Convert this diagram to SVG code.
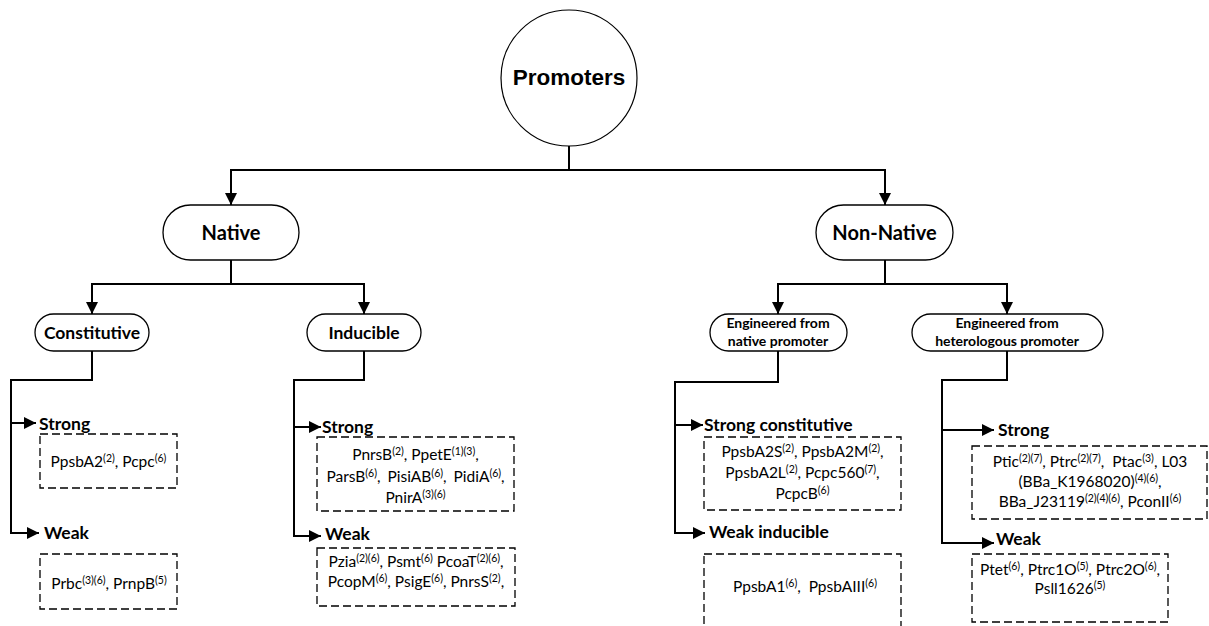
<svg xmlns="http://www.w3.org/2000/svg" width="1209" height="626" viewBox="0 0 1209 626">
<style>
.pill{fill:#fff;stroke:#000;stroke-width:1.3}
.box{fill:none;stroke:#000;stroke-width:1.3;stroke-dasharray:8 4}
.c{fill:none;stroke:#000;stroke-width:2}
.t{font-family:Lato,"Liberation Sans",sans-serif;fill:#000}
.lab{font-size:20px;font-weight:bold}
.sub{font-size:17.5px;font-weight:bold}
.small{font-size:14px;font-weight:bold}
.body{font-size:15.5px}
.sup{font-size:10.5px;baseline-shift:5.5px}
.mid{text-anchor:middle}
</style>
<defs>
<marker id="ah" markerUnits="userSpaceOnUse" markerWidth="12" markerHeight="12" refX="12" refY="6" orient="auto">
<path d="M0,0 L12,6 L0,12 z" fill="#000"/>
</marker>
</defs>
<g id="connectors">
<line class="c" x1="569" y1="146" x2="569" y2="170"/>
<line class="c" x1="230" y1="170" x2="886" y2="170"/>
<line class="c" x1="231" y1="170" x2="231" y2="205" marker-end="url(#ah)"/>
<line class="c" x1="885" y1="170" x2="885" y2="205" marker-end="url(#ah)"/>
<line class="c" x1="231" y1="260" x2="231" y2="284"/>
<line class="c" x1="91" y1="284" x2="365" y2="284"/>
<line class="c" x1="92" y1="284" x2="92" y2="314" marker-end="url(#ah)"/>
<line class="c" x1="364" y1="284" x2="364" y2="314" marker-end="url(#ah)"/>
<line class="c" x1="885" y1="260" x2="885" y2="284"/>
<line class="c" x1="777" y1="284" x2="1008" y2="284"/>
<line class="c" x1="778" y1="284" x2="778" y2="314" marker-end="url(#ah)"/>
<line class="c" x1="1007" y1="284" x2="1007" y2="314" marker-end="url(#ah)"/>
<polyline class="c" points="92,351 92,380 11,380 11,533"/>
<line class="c" x1="10" y1="423" x2="36" y2="423" marker-end="url(#ah)"/>
<line class="c" x1="10" y1="533" x2="39" y2="533" marker-end="url(#ah)"/>
<polyline class="c" points="364,351 364,380 294,380 294,536"/>
<line class="c" x1="293" y1="427" x2="321" y2="427" marker-end="url(#ah)"/>
<line class="c" x1="293" y1="536" x2="321" y2="536" marker-end="url(#ah)"/>
<polyline class="c" points="778,351 778,382 675,382 675,533"/>
<line class="c" x1="674" y1="425" x2="703" y2="425" marker-end="url(#ah)"/>
<line class="c" x1="674" y1="533" x2="705" y2="533" marker-end="url(#ah)"/>
<polyline class="c" points="1007,351 1007,380 942,380 942,543"/>
<line class="c" x1="941" y1="430" x2="994" y2="430" marker-end="url(#ah)"/>
<line class="c" x1="941" y1="543" x2="994" y2="543" marker-end="url(#ah)"/>
</g>
<g id="promoters">
<circle cx="569" cy="78" r="68" fill="#fff" stroke="#000" stroke-width="1.2"/>
<text x="569" y="85" text-anchor="middle" font-family="'Liberation Sans',Arial,sans-serif" font-weight="bold" font-size="22.5px">Promoters</text>
</g>
<g id="native">
<rect class="pill" x="163" y="205" width="136" height="55" rx="27.5"/>
<text class="t lab mid" x="231" y="240">Native</text>
</g>
<g id="nonnative">
<rect class="pill" x="816" y="205" width="137" height="55" rx="27.5"/>
<text class="t lab mid" x="884.5" y="240">Non-Native</text>
</g>
<g id="constitutive">
<rect class="pill" x="35" y="314" width="114" height="37" rx="18.5"/>
<text class="t sub mid" x="92" y="339">Constitutive</text>
</g>
<g id="inducible">
<rect class="pill" x="307" y="314" width="114" height="37" rx="18.5"/>
<text class="t sub mid" x="364" y="339">Inducible</text>
</g>
<g id="eng-native">
<rect class="pill" x="710" y="314" width="137" height="37" rx="18.5"/>
<text class="t small mid" x="778" y="328">Engineered from</text>
<text class="t small mid" x="778" y="346">native promoter</text>
</g>
<g id="eng-hetero">
<rect class="pill" x="912" y="314" width="191" height="37" rx="18.5"/>
<text class="t small mid" x="1007" y="328">Engineered from</text>
<text class="t small mid" x="1007" y="346">heterologous promoter</text>
</g>
<g id="const-strong">
<text class="t sub" x="39" y="430">Strong</text>
<rect class="box" x="40" y="434" width="137" height="54"/>
<text class="t body mid" x="108.5" y="467">PpsbA2<tspan class="sup">(2)</tspan>, Pcpc<tspan class="sup">(6)</tspan></text>
</g>
<g id="const-weak">
<text class="t sub" x="44" y="539">Weak</text>
<rect class="box" x="40" y="554" width="137" height="55"/>
<text class="t body mid" x="109" y="589">Prbc<tspan class="sup">(3)(6)</tspan>, PrnpB<tspan class="sup">(5)</tspan></text>
</g>
<g id="ind-strong">
<text class="t sub" x="322" y="433">Strong</text>
<rect class="box" x="317" y="437" width="197" height="74"/>
<text class="t body mid" x="415.5" y="460">PnrsB<tspan class="sup">(2)</tspan>, PpetE<tspan class="sup">(1)(3)</tspan>,</text>
<text class="t body mid" x="415.5" y="482" word-spacing="3">ParsB<tspan class="sup">(6)</tspan>, PisiAB<tspan class="sup">(6)</tspan>, PidiA<tspan class="sup">(6)</tspan>,</text>
<text class="t body mid" x="415.5" y="503">PnirA<tspan class="sup">(3)(6)</tspan></text>
</g>
<g id="ind-weak">
<text class="t sub" x="325" y="540">Weak</text>
<rect class="box" x="317" y="548" width="198" height="58"/>
<text class="t body mid" x="416" y="567">Pzia<tspan class="sup">(2)(6)</tspan>, Psmt<tspan class="sup">(6)</tspan> PcoaT<tspan class="sup">(2)(6)</tspan>,</text>
<text class="t body mid" x="416" y="587">PcopM<tspan class="sup">(6)</tspan>, PsigE<tspan class="sup">(6)</tspan>, PnrsS<tspan class="sup">(2)</tspan>,</text>
</g>
<g id="engn-strong">
<text class="t sub" x="704" y="431">Strong constitutive</text>
<rect class="box" x="704" y="437" width="197" height="73"/>
<text class="t body mid" x="802.5" y="457">PpsbA2S<tspan class="sup">(2)</tspan>, PpsbA2M<tspan class="sup">(2)</tspan>,</text>
<text class="t body mid" x="802.5" y="478">PpsbA2L<tspan class="sup">(2)</tspan>, Pcpc560<tspan class="sup">(7)</tspan>,</text>
<text class="t body mid" x="802.5" y="499">PcpcB<tspan class="sup">(6)</tspan></text>
</g>
<g id="engn-weak">
<text class="t sub" x="709" y="538">Weak inducible</text>
<rect class="box" x="704" y="554" width="197" height="90"/>
<text class="t body mid" x="805" y="592" xml:space="preserve">PpsbA1<tspan class="sup">(6)</tspan>,  PpsbAIII<tspan class="sup">(6)</tspan></text>
</g>
<g id="engh-strong">
<text class="t sub" x="998" y="436">Strong</text>
<rect class="box" x="972" y="446" width="235" height="73"/>
<text class="t body mid" x="1090" y="467" xml:space="preserve">Ptic<tspan class="sup">(2)(7)</tspan>, Ptrc<tspan class="sup">(2)(7)</tspan>,  Ptac<tspan class="sup">(3)</tspan>, L03</text>
<text class="t body mid" x="1090" y="487">(BBa_K1968020)<tspan class="sup">(4)(6)</tspan>,</text>
<text class="t body mid" x="1090" y="507">BBa_J23119<tspan class="sup">(2)(4)(6)</tspan>, PconII<tspan class="sup">(6)</tspan></text>
</g>
<g id="engh-weak">
<text class="t sub" x="996" y="545">Weak</text>
<rect class="box" x="972" y="554" width="196" height="68"/>
<text class="t body mid" x="1070" y="575">Ptet<tspan class="sup">(6)</tspan>, Ptrc1O<tspan class="sup">(5)</tspan>, Ptrc2O<tspan class="sup">(6)</tspan>,</text>
<text class="t body mid" x="1070" y="594">Psll1626<tspan class="sup">(5)</tspan></text>
</g>
</svg>
